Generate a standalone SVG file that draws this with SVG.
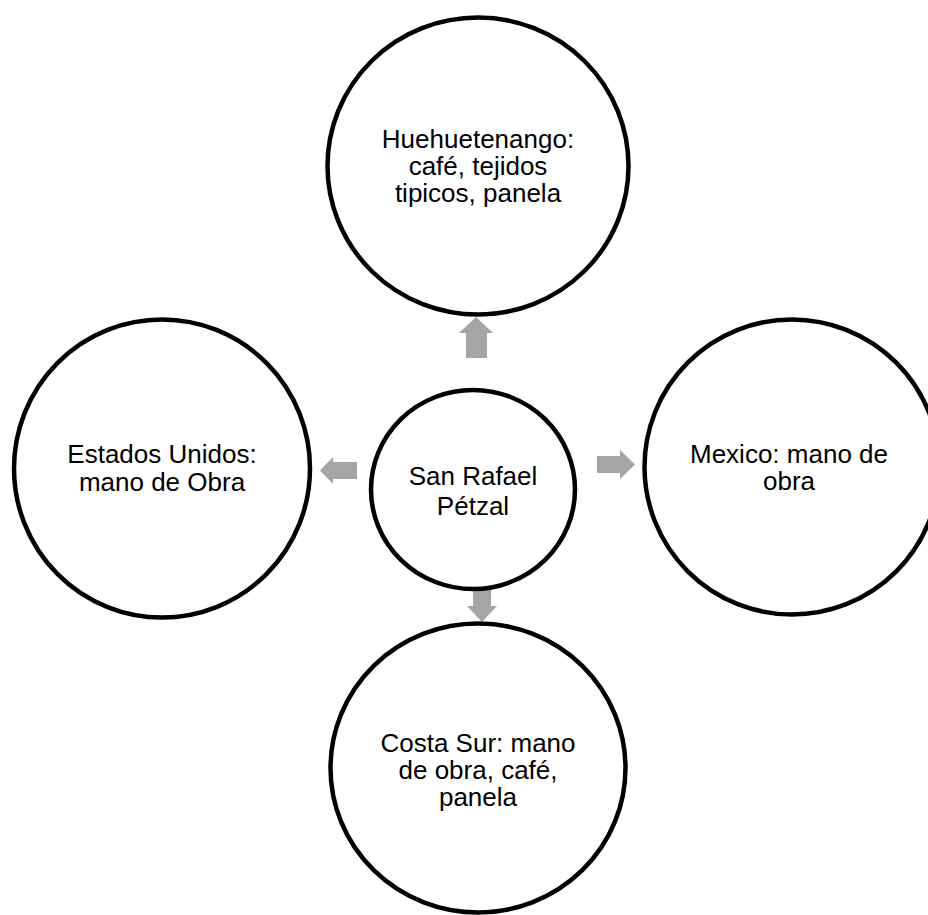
<svg xmlns="http://www.w3.org/2000/svg" width="928" height="915" viewBox="0 0 928 915">
<style>
.node{fill:#ffffff;stroke:#000000;stroke-width:4.5}
.arr{fill:#a5a5a5;stroke:none}
text{font-family:"Liberation Sans",Arial,sans-serif;font-size:26px;fill:#000000;text-anchor:middle}
</style>
<rect x="0" y="0" width="928" height="915" fill="#ffffff"/>
<g id="connectors">
<polygon class="arr" points="466,358 466,333 459,333 476,317 493,333 487,333 487,358"/>
<polygon class="arr" points="357,462 333,462 333,457 320,470.5 333,484 333,479 357,479"/>
<polygon class="arr" points="597,456 620,456 620,450 635,464.5 620,479 620,473 597,473"/>
<polygon class="arr" points="473,590 473,606 467,606 482,622 497,606 491,606 491,590"/>
</g>
<g id="node-huehuetenango">
<ellipse class="node" cx="478" cy="166" rx="150.5" ry="148.5"/>
<text x="478" y="148">Huehuetenango:</text>
<text x="478" y="175">café, tejidos</text>
<text x="478" y="202">tipicos, panela</text>
</g>
<g id="node-center">
<ellipse class="node" cx="473" cy="489.5" rx="102" ry="99.5"/>
<text x="473" y="485">San Rafael</text>
<text x="473" y="515">Pétzal</text>
</g>
<g id="node-estados-unidos">
<ellipse class="node" cx="162" cy="468.5" rx="148" ry="149"/>
<text x="162" y="463">Estados Unidos:</text>
<text x="162" y="491">mano de Obra</text>
</g>
<g id="node-mexico">
<ellipse class="node" cx="792" cy="467" rx="147.5" ry="147.5"/>
<text x="789" y="463">Mexico: mano de</text>
<text x="789" y="490">obra</text>
</g>
<g id="node-costa-sur">
<ellipse class="node" cx="478" cy="768" rx="147.5" ry="144.5"/>
<text x="478" y="752">Costa Sur: mano</text>
<text x="478" y="779">de obra, café,</text>
<text x="478" y="806">panela</text>
</g>
</svg>
